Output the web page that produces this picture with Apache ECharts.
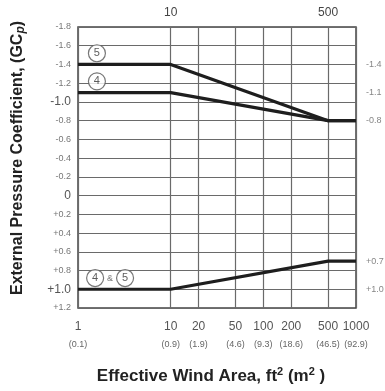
<!DOCTYPE html>
<html><head><meta charset="utf-8">
<script src="https://cdn.jsdelivr.net/npm/echarts@6/dist/echarts.min.js"></script>
<style>html,body{margin:0;padding:0;background:#fff}#c{width:385px;height:391px}</style>
</head><body><div id="c"></div>
<script>
// ---- data ----
const areaFt = [1, 10, 20, 50, 100, 200, 500, 1000];
const areaM = ['0.1', '0.9', '1.9', '4.6', '9.3', '18.6', '46.5', '92.9'];
const topTicks = [10, 500];
const zone5X = [1, 10, 500, 1000];
const zone5Y = [-1.4, -1.4, -0.8, -0.8];
const zone4X = [1, 10, 500, 1000];
const zone4Y = [-1.1, -1.1, -0.8, -0.8];
const zone45X = [1, 10, 500, 1000];
const zone45Y = [1.0, 1.0, 0.7, 0.7];
const rightLabelVals = [-1.4, -1.1, -0.8, 0.7, 1.0];
const markerX = [1.6, 1.6, 1.53, 3.22];
const markerY = [-1.52, -1.22, 0.88, 0.88];
const markerText = ['5', '4', '4', '5'];
const ampX = [2.22];
const ampY = [0.88];

const FONT = "'Liberation Sans Narrow','Liberation Sans',Arial,sans-serif";
const pair = (xs, ys) => xs.map((x, i) => [x, ys[i]]);
const fmtY = v => {
  const r = Math.round(v * 10) / 10;
  if (r === 0) return '{big|0}';
  const s = (r > 0 ? '+' : '-') + Math.abs(r).toFixed(1);
  return Math.abs(r) === 1 ? '{big|' + s + '}' : s;
};
const lineStyle = {color: '#1e1e1e', width: 3.2};

const chart = echarts.init(document.getElementById('c'));
chart.setOption({
  animation: false,
  backgroundColor: '#fff',
  grid: {left: 78, right: 29, top: 27, bottom: 83, show: true, borderColor: '#444', borderWidth: 1.5,
    containLabel: false, outerBoundsMode: 'none'},
  title: {
    text: 'Effective Wind Area, ft{sup|2} (m{sup|2} )',
    left: 206, top: 361, textAlign: 'center',
    textStyle: {fontFamily: FONT, fontSize: 17, fontWeight: 'bold', color: '#222',
      rich: {sup: {fontFamily: FONT, fontSize: 11, fontWeight: 'bold', color: '#222', verticalAlign: 'top', padding: [0, 0, 9, 0]}}}
  },
  graphic: [{
    type: 'text', x: 18, y: 158, rotation: Math.PI / 2,
    style: {
      text: 'External Pressure Coefficient, (GC{i|p})',
      fontFamily: FONT, fontSize: 16, fontWeight: 'bold', fill: '#222',
      align: 'center', verticalAlign: 'middle',
      rich: {i: {fontFamily: FONT, fontSize: 12, fontWeight: 'bold', fontStyle: 'italic', fill: '#222', padding: [5, 0, 0, 0]}}
    }
  }],
  xAxis: [{
    type: 'log', min: 1, max: 1000, logBase: 10,
    axisLine: {show: false},
    axisTick: {show: false, customValues: areaFt},
    splitLine: {show: true, lineStyle: {color: '#6a6a6a', width: 1.2}},
    axisLabel: {
      customValues: areaFt, margin: 10, fontFamily: FONT, fontSize: 12, color: '#555', lineHeight: 18,
      formatter: v => {
        const i = areaFt.indexOf(Math.round(v));
        return i < 0 ? '' : areaFt[i] + '\n{s|(' + areaM[i] + ')}';
      },
      rich: {s: {fontFamily: FONT, fontSize: 9, color: '#666', lineHeight: 18}}
    }
  }, {
    type: 'log', min: 1, max: 1000, logBase: 10, position: 'top',
    axisLine: {show: false}, axisTick: {show: false, customValues: topTicks}, splitLine: {show: false},
    axisLabel: {customValues: topTicks, margin: 8, fontFamily: FONT, fontSize: 12, color: '#444',
      formatter: v => String(Math.round(v))}
  }],
  yAxis: {
    type: 'value', min: -1.8, max: 1.2, interval: 0.2, inverse: true,
    axisLine: {show: false}, axisTick: {show: false},
    splitLine: {show: true, lineStyle: {color: '#6a6a6a', width: 1.2}},
    axisLabel: {margin: 7, fontFamily: FONT, fontSize: 9, color: '#777', formatter: fmtY,
      rich: {big: {fontFamily: FONT, fontSize: 12, color: '#555'}}}
  },
  series: [
    {type: 'line', data: pair(zone5X, zone5Y), symbol: 'none', lineStyle: lineStyle, z: 3},
    {type: 'line', data: pair(zone4X, zone4Y), symbol: 'none', lineStyle: lineStyle, z: 3},
    {type: 'line', data: pair(zone45X, zone45Y), symbol: 'none', lineStyle: lineStyle, z: 3},
    {type: 'scatter', data: rightLabelVals.map(v => [1000, v]), symbolSize: 0, silent: true,
      label: {show: true, position: 'right', distance: 10, fontFamily: FONT, fontSize: 9, color: '#666',
        formatter: p => (p.value[1] > 0 ? '+' : '-') + Math.abs(p.value[1]).toFixed(1)}},
    {type: 'scatter', data: pair(markerX, markerY), symbol: 'circle', symbolSize: 17, z: 5,
      itemStyle: {color: '#fff', borderColor: '#555', borderWidth: 1.2},
      label: {show: true, position: 'inside', fontFamily: FONT, fontSize: 11, color: '#333',
        formatter: p => markerText[p.dataIndex]}},
    {type: 'scatter', data: pair(ampX, ampY), symbolSize: 0, z: 5,
      label: {show: true, position: 'inside', fontFamily: FONT, fontSize: 9, color: '#555', formatter: '&'}}
  ]
});
</script></body></html>
